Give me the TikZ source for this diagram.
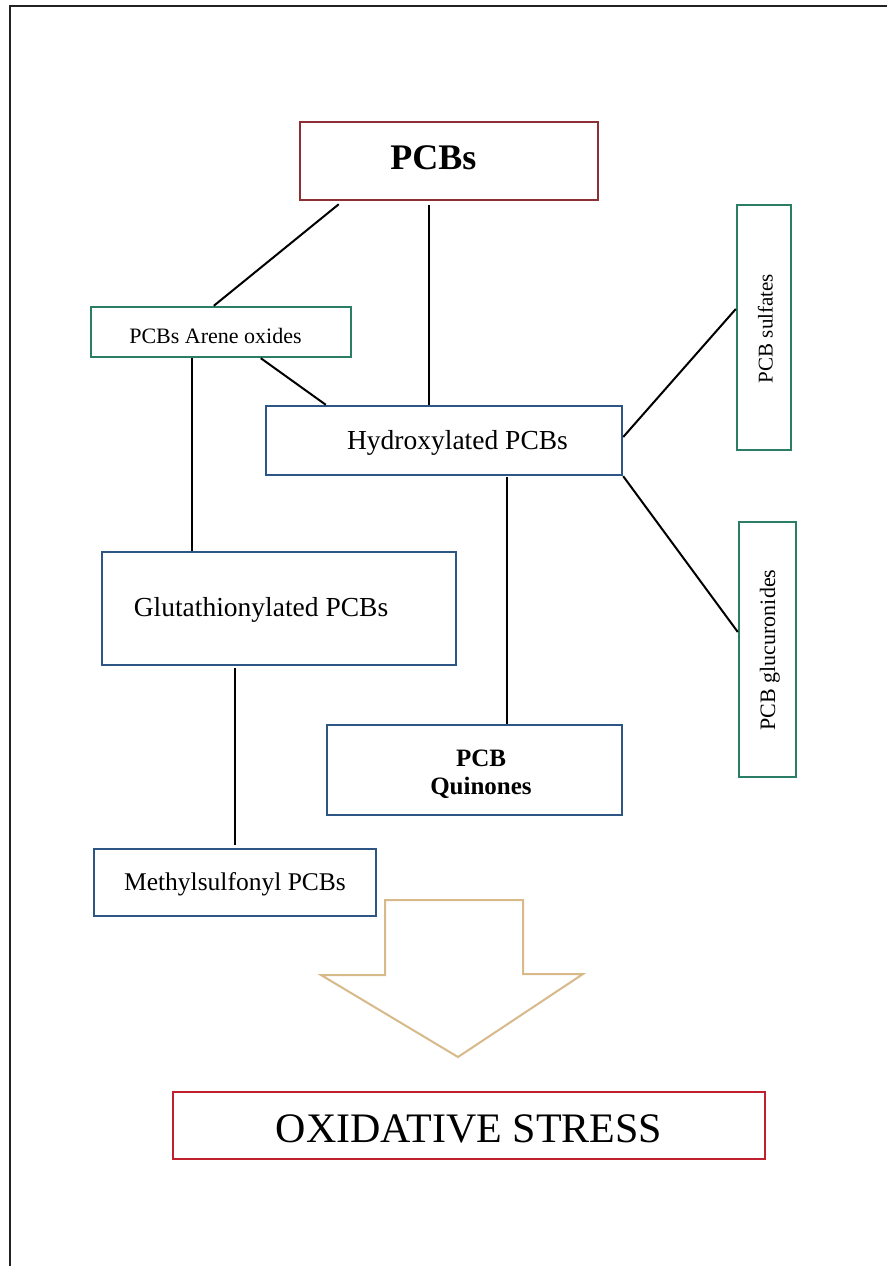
\documentclass[tikz,border=0pt]{standalone}
\usepackage{fontspec}
\setmainfont{Liberation Serif}
\usetikzlibrary{calc}
\definecolor{pcbred}{HTML}{8E2F35}
\definecolor{oxred}{HTML}{C01F2E}
\definecolor{boxgreen}{HTML}{2C7D66}
\definecolor{boxblue}{HTML}{2D5685}
\definecolor{arrowtan}{HTML}{D8B98A}
\definecolor{framegray}{HTML}{222222}
\begin{document}
\begin{tikzpicture}[x=1pt,y=-1pt,
  box/.style={draw, line width=2.4pt, inner sep=0pt, fill=white},
  redbox/.style={box, draw=pcbred},
  oxbox/.style={box, draw=oxred},
  greenbox/.style={box, draw=boxgreen},
  bluebox/.style={box, draw=boxblue},
  txt/.style={anchor=base, inner sep=0pt, text=black},
  link/.style={draw=black, line width=2pt},
  bigarrow/.style={draw=arrowtan, line width=2pt, line join=miter, fill=white}
]
\useasboundingbox (0,0) rectangle (887,1266);
\fill[white] (0,0) rectangle (887,1266);
% page frame
\draw[line width=1.5pt, framegray] (10,1266) -- (10,6) -- (887,6);

% boxes
\node[redbox,   minimum width=298pt, minimum height=78pt]  (pcbs)  at (449,161) {};
\node[greenbox, minimum width=260pt, minimum height=50pt]  (arene) at (221,332) {};
\node[bluebox,  minimum width=356pt, minimum height=69pt]  (hyd)   at (444,440.5) {};
\node[greenbox, minimum width=54pt,  minimum height=245pt] (sulf)  at (764,327.5) {};
\node[greenbox, minimum width=57pt,  minimum height=255pt] (gluc)  at (767.5,649.5) {};
\node[bluebox,  minimum width=354pt, minimum height=113pt] (glut)  at (279,608.5) {};
\node[bluebox,  minimum width=295pt, minimum height=90pt]  (quin)  at (474.5,770) {};
\node[bluebox,  minimum width=282pt, minimum height=67pt]  (meth)  at (235,882.5) {};
\node[oxbox,    minimum width=592pt, minimum height=67pt]  (ox)    at (469,1125.5) {};

% texts
\node[txt, font=\fontsize{36}{40}\selectfont\bfseries] (pcbsT) at (433.5,169) {PCBs};
\node[txt, font=\fontsize{22}{26}\selectfont] (areneT) at (215.5,343.3) {PCBs Arene oxides};
\node[txt, font=\fontsize{27.5}{31}\selectfont] (hydT) at (457.5,449.3) {Hydroxylated PCBs};
\node[txt, rotate=90, font=\fontsize{21}{25}\selectfont] (sulfT) at (772.5,328.5) {PCB sulfates};
\node[txt, rotate=90, font=\fontsize{22}{26}\selectfont] (glucT) at (775,650) {PCB glucuronides};
\node[txt, font=\fontsize{27.5}{31}\selectfont] (glutT) at (261,616.7) {Glutathionylated PCBs};
\node[txt, font=\fontsize{25}{29}\selectfont\bfseries] (quinT1) at (481,766.5) {PCB};
\node[txt, font=\fontsize{25}{29}\selectfont\bfseries] (quinT2) at (481,794) {Quinones};
\node[txt, font=\fontsize{25.5}{29}\selectfont] (methT) at (235,890) {Methylsulfonyl PCBs};
\node[txt, font=\fontsize{42}{46}\selectfont] (oxT) at (469,1142) {OXIDATIVE STRESS};

% connectors
\draw[link] ($(pcbs.south west)+(40,3)$) -- ($(arene.north west)+(124,0)$);
\draw[link] ($(pcbs.south west)+(130,4)$) -- ($(hyd.north west)+(164,0)$);
\draw[link] ($(arene.south west)+(171,0)$) -- ($(hyd.north west)+(61,0)$);
\draw[link] ($(arene.south west)+(102,0)$) -- ($(glut.north west)+(91,0)$);
\draw[link] ($(hyd.east)+(0,-3.5)$) -- ($(sulf.west)+(0,-18.5)$);
\draw[link] (hyd.south east) -- ($(gluc.west)+(0,-17.5)$);
\draw[link] ($(hyd.south west)+(242,1)$) -- ($(quin.north west)+(181,0)$);
\draw[link] ($(glut.south west)+(134,2)$) -- ($(meth.north west)+(142,-3)$);

% big hollow arrow
\draw[bigarrow] (385,900) -- (523,900) -- (523,974) -- (583,974) -- (458,1057)
  -- (321,975) -- (385,975) -- cycle;
\end{tikzpicture}
\end{document}
